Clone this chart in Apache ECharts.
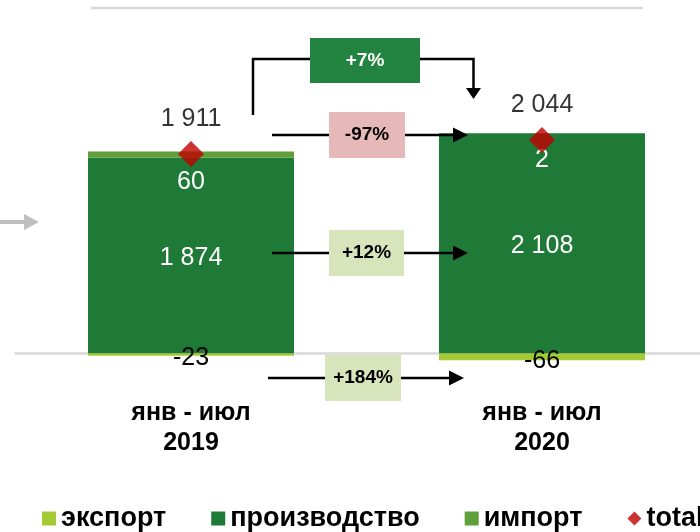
<!DOCTYPE html>
<html>
<head>
<meta charset="utf-8">
<script src="https://cdn.jsdelivr.net/npm/echarts@6/dist/echarts.min.js"></script>
<style>html,body{margin:0;padding:0;background:#fff}#c{width:700px;height:532px}</style>
</head>
<body>
<div id="c"></div>
<script>
var categories = ['янв - июл\n2019', 'янв - июл\n2020'];
var seriesNames = ['экспорт', 'производство', 'импорт', 'total'];
var exportVals = [-23, -66];
var productionVals = [1874, 2108];
var importVals = [60, 2];
var totalVals = [1911, 2044];
var changeLabels = ['+7%', '-97%', '+12%', '+184%'];

var FONT = "'Liberation Sans', Arial, sans-serif";
function fmt(p) {
  return String(p.value).replace(/\B(?=(\d{3})+(?!\d))/g, ' ');
}

var chart = echarts.init(document.getElementById('c'), null, {renderer: 'canvas'});

function arrowH(x1, x2, y) {
  return [
    {type: 'line', z: 50, shape: {x1: x1, y1: y, x2: x2 - 14, y2: y}, style: {stroke: '#000', lineWidth: 2.5}},
    {type: 'polygon', z: 50, shape: {points: [[x2 - 15, y - 7.5], [x2, y], [x2 - 15, y + 7.5]]}, style: {fill: '#000'}}
  ];
}
function box(x, y, w, h, fill, text, color) {
  return {type: 'rect', z: 60, shape: {x: x, y: y, width: w, height: h}, style: {fill: fill},
    textContent: {z: 61, style: {text: text, fill: color, font: 'bold 19px ' + FONT}},
    textConfig: {position: 'inside'}};
}

var graphics = [];
graphics.push({type: 'line', z: 5, shape: {x1: 91, y1: 8, x2: 643, y2: 8}, style: {stroke: '#D9D9D9', lineWidth: 2.5}});
graphics.push({type: 'line', z: 5, shape: {x1: 0, y1: 222, x2: 25, y2: 222}, style: {stroke: '#BFBFBF', lineWidth: 4}});
graphics.push({type: 'polygon', z: 5, shape: {points: [[24, 214], [39, 222], [24, 230]]}, style: {fill: '#BFBFBF'}});
graphics.push({type: 'polyline', z: 50, shape: {points: [[253, 115], [253, 59], [473.5, 59], [473.5, 89]]}, style: {stroke: '#000', lineWidth: 2.5, fill: null}});
graphics.push({type: 'polygon', z: 50, shape: {points: [[466, 88], [481, 88], [473.5, 99]]}, style: {fill: '#000'}});
graphics.push(box(310, 38, 110, 45, '#228440', changeLabels[0], '#fff'));
graphics = graphics.concat(arrowH(272, 468, 135));
graphics.push(box(329, 112, 76, 46, '#E6B8B7', changeLabels[1], '#000'));
graphics = graphics.concat(arrowH(272, 468, 253));
graphics.push(box(329, 230, 75, 46, '#D8E4BC', changeLabels[2], '#000'));
graphics = graphics.concat(arrowH(268, 464, 378));
graphics.push(box(325, 355, 76, 46, '#D8E4BC', changeLabels[3], '#000'));

var option = {
  animation: false,
  backgroundColor: '#fff',
  textStyle: {fontFamily: FONT},
  grid: {left: 15.5, top: 9, width: 702, height: 386, containLabel: false, outerBoundsMode: 'none'},
  legend: {
    left: 37, top: 500, width: 760, itemGap: 45, itemWidth: 14, itemHeight: 14,
    textStyle: {fontFamily: FONT, fontWeight: 'bold', fontSize: 27, color: '#000', lineHeight: 27},
    data: [
      {name: seriesNames[0], icon: 'rect'},
      {name: seriesNames[1], icon: 'rect'},
      {name: seriesNames[2], icon: 'rect'},
      {name: seriesNames[3], icon: 'diamond'}
    ]
  },
  xAxis: {
    type: 'category', data: categories,
    axisTick: {show: false},
    axisLine: {onZero: true, lineStyle: {color: '#D9D9D9', width: 2.5}},
    axisLabel: {margin: 3, color: '#000', fontWeight: 'bold', fontSize: 25, lineHeight: 30, fontFamily: FONT}
  },
  yAxis: {type: 'value', min: -400, max: 3300, show: false, splitLine: {show: false}},
  series: [
    {name: seriesNames[0], type: 'bar', stack: 's', barWidth: 206, data: exportVals,
      itemStyle: {color: '#A4CA35'},
      label: {show: true, position: 'inside', offset: [0, 4], color: '#000', fontSize: 25, fontFamily: FONT, formatter: fmt}},
    {name: seriesNames[1], type: 'bar', stack: 's', barWidth: 206, data: productionVals,
      itemStyle: {color: '#1F7A38'},
      label: {show: true, position: 'inside', offset: [0, 3], color: '#fff', fontSize: 25, fontFamily: FONT, formatter: fmt}},
    {name: seriesNames[2], type: 'bar', stack: 's', barWidth: 206, data: importVals,
      itemStyle: {color: '#5FA03B'},
      label: {show: true, position: 'inside', offset: [0, 27], color: '#fff', fontSize: 25, fontFamily: FONT, formatter: fmt}},
    {name: seriesNames[3], type: 'scatter', data: totalVals, symbol: 'diamond', symbolSize: 26, z: 10,
      itemStyle: {color: '#C00000'},
      label: {show: true, position: 'top', distance: 9, color: '#000', fontSize: 25, fontFamily: FONT, formatter: fmt}}
  ],
  graphic: graphics
};
chart.setOption(option);
</script>
</body>
</html>
